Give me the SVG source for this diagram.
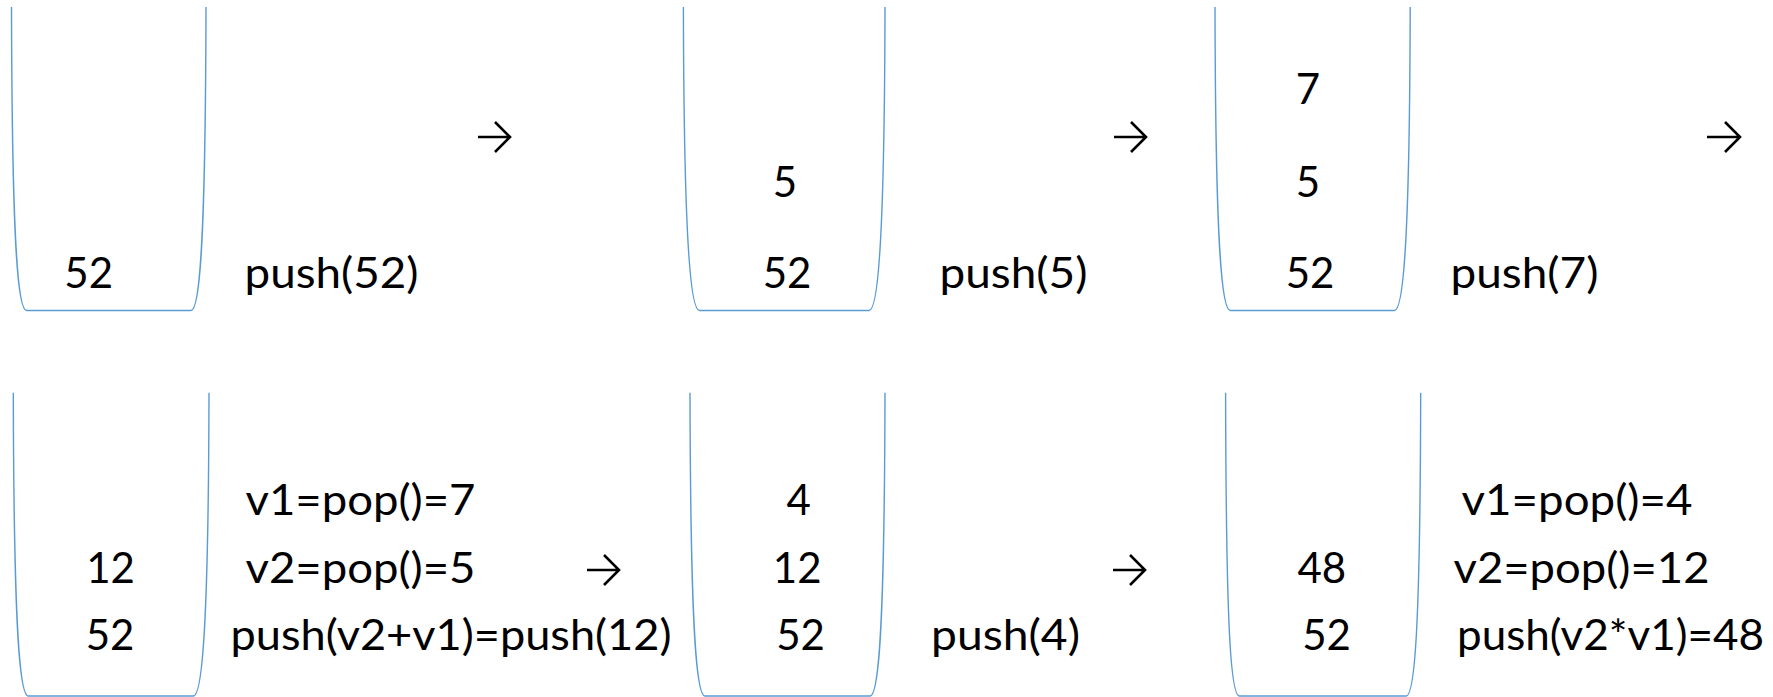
<svg xmlns="http://www.w3.org/2000/svg" width="1773" height="697" viewBox="0 0 1773 697">
<style>
.cup{fill:none;stroke:#5B9BD5;stroke-width:1.4}
.t{font-family:"Lato","Liberation Sans",sans-serif;font-size:42px;fill:#000}
.n{text-anchor:middle}
.arr{fill:none;stroke:#000;stroke-width:2.6}
</style>
<rect width="1773" height="697" fill="#fff"/>
<g id="stack1">
<path class="cup" d="M11.5,7 C12,240 17.5,310.5 26.5,310.5 L191,310.5 C200,310.5 205.5,240 206,7"/>
<text class="t n" x="88.7" y="288">52</text>
<text class="t" x="244.5" y="288" textLength="174" lengthAdjust="spacingAndGlyphs">push(52)</text>
</g>
<g id="stack2">
<path class="cup" d="M683.4,7 C683.9,240 690.5,310.5 699.5,310.5 L869,310.5 C878,310.5 884.5,240 885,7"/>
<text class="t n" x="785" y="197">5</text>
<text class="t n" x="787" y="288">52</text>
<text class="t" x="939.5" y="288" textLength="148" lengthAdjust="spacingAndGlyphs">push(5)</text>
</g>
<g id="stack3">
<path class="cup" d="M1215,7 C1215.5,240 1221.3,310.5 1230.3,310.5 L1394.4,310.5 C1403.4,310.5 1409.7,240 1410.2,7"/>
<text class="t n" x="1308" y="104">7</text>
<text class="t n" x="1308" y="197">5</text>
<text class="t n" x="1310" y="288">52</text>
<text class="t" x="1450.5" y="288" textLength="148" lengthAdjust="spacingAndGlyphs">push(7)</text>
</g>
<g id="stack4">
<path class="cup" d="M13.3,392.7 C13.8,625 19.3,696 28.3,696 L193.3,696 C202.3,696 208.5,625 209,392.7"/>
<text class="t n" x="110.5" y="583">12</text>
<text class="t n" x="110" y="650">52</text>
<text class="t" x="245.5" y="515" textLength="230" lengthAdjust="spacingAndGlyphs">v1=pop()=7</text>
<text class="t" x="245.5" y="583" textLength="230" lengthAdjust="spacingAndGlyphs">v2=pop()=5</text>
<text class="t" x="230.5" y="650" textLength="441" lengthAdjust="spacingAndGlyphs">push(v2+v1)=push(12)</text>
</g>
<g id="stack5">
<path class="cup" d="M690,392.7 C690.5,625 696,696 705,696 L870,696 C879,696 884.5,625 885,392.7"/>
<text class="t n" x="798.8" y="515">4</text>
<text class="t n" x="797.2" y="583">12</text>
<text class="t n" x="800.5" y="650">52</text>
<text class="t" x="931" y="650" textLength="149" lengthAdjust="spacingAndGlyphs">push(4)</text>
</g>
<g id="stack6">
<path class="cup" d="M1225.6,392.7 C1226.1,625 1230.5,696 1239.5,696 L1406,696 C1415,696 1420.2,625 1420.7,392.7"/>
<text class="t n" x="1321.8" y="583">48</text>
<text class="t n" x="1326.5" y="650">52</text>
<text class="t" x="1461.5" y="515" textLength="231" lengthAdjust="spacingAndGlyphs">v1=pop()=4</text>
<text class="t" x="1453.5" y="583" textLength="256" lengthAdjust="spacingAndGlyphs">v2=pop()=12</text>
<text class="t" x="1457" y="650" textLength="307" lengthAdjust="spacingAndGlyphs">push(v2*v1)=48</text>
</g>
<g id="connectors">
<path class="arr" d="M478,137 H510 M495,122 L510,137 L495,152"/>
<path class="arr" d="M1114,137 H1146 M1131,122 L1146,137 L1131,152"/>
<path class="arr" d="M1707,137 H1740 M1725,122 L1740,137 L1725,152"/>
<path class="arr" d="M587,570 H619 M604,555 L619,570 L604,585"/>
<path class="arr" d="M1113,570 H1145 M1130,555 L1145,570 L1130,585"/>
</g>
</svg>
